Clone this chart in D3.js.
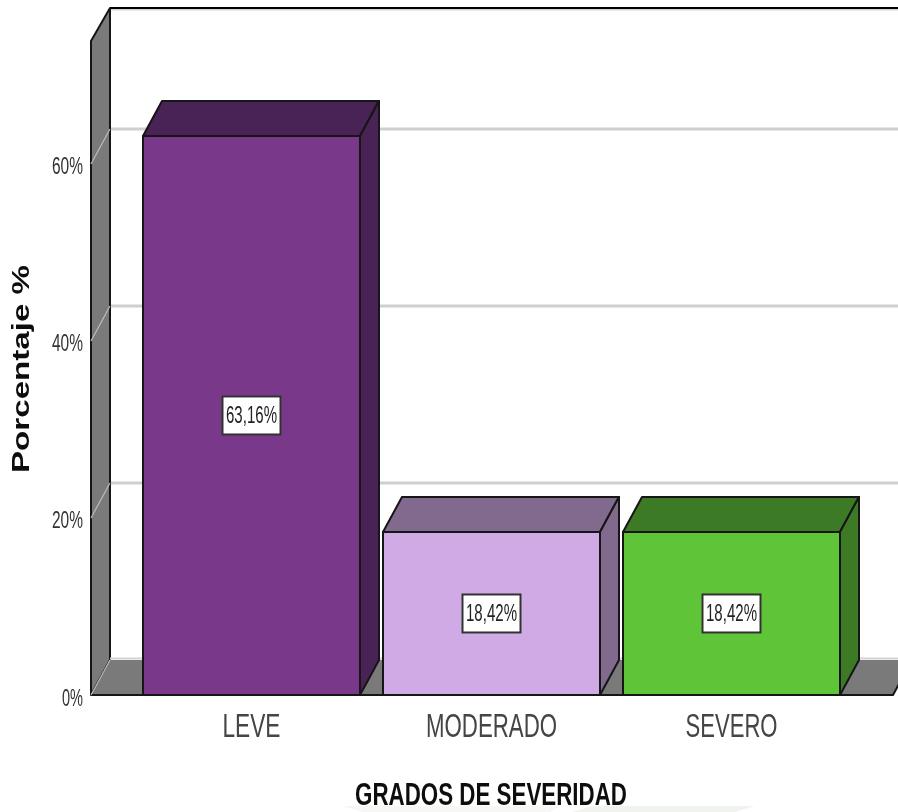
<!DOCTYPE html>
<html><head><meta charset="utf-8">
<script src="https://cdn.jsdelivr.net/npm/d3@7/dist/d3.min.js"></script>
<style>html,body{margin:0;padding:0;background:#fff}svg{display:block}text{font-family:"Liberation Sans",Arial,sans-serif}</style>
</head><body><svg id="c" width="898" height="812"></svg>
<script>
const categories = ["LEVE","MODERADO","SEVERO"];
const values = [63.16,18.42,18.42];
const valueLabels = ["63,16%","18,42%","18,42%"];
const frontColors = ["#7a378b","#cfaae5","#5fc439"];
const topColors = ["#4a2257","#816a8e","#3e7a26"];
const yTicks = [0,20,40,60];
const xTitle = "GRADOS DE SEVERIDAD";
const yTitle = "Porcentaje %";

const svg = d3.select("#c");
const defs = svg.append("defs");
defs.append("filter").attr("id","soft").attr("x","-5%").attr("y","-5%").attr("width","110%").attr("height","110%")
  .append("feGaussianBlur").attr("stdDeviation",0.5);
const root = svg.append("g").attr("filter","url(#soft)");
root.append("rect").attr("width",898).attr("height",812).attr("fill","#fff");

const dx = 19, dy = -35;
const y = d3.scaleLinear().domain([0,74]).range([695,40]);
const x = d3.scaleBand().domain(categories).range([143,840]).paddingInner(23/240).paddingOuter(0);
const left = 91, right = 893;
const poly = pts => pts.map(p=>p.join(",")).join(" ");
const ink = "#141414", wall = "#7a7a7a";

// faint watermark at the page foot
root.append("polygon").attr("points",poly([[342,806],[560,806],[550,812],[362,812]])).attr("fill","#f7f7f6");
root.append("polygon").attr("points",poly([[592,806],[755,806],[735,812],[572,812]])).attr("fill","#f1f4ee");

// back wall gridlines
root.selectAll("line.grid").data(yTicks.filter(t=>t>0)).join("line")
  .attr("x1",left+dx).attr("x2",898).attr("y1",t=>y(t)+dy).attr("y2",t=>y(t)+dy)
  .attr("stroke","#cfcfcf").attr("stroke-width",3);
// top of back wall
root.append("line").attr("x1",left+dx).attr("x2",898).attr("y1",y(74)+dy+4.5).attr("y2",y(74)+dy+4.5).attr("stroke","#d4d4d4").attr("stroke-width",2);
root.append("line").attr("x1",left+dx).attr("x2",898).attr("y1",y(74)+dy+3).attr("y2",y(74)+dy+3).attr("stroke","#000").attr("stroke-width",2);
// side wall
root.append("polygon").attr("points",poly([[left,y(74)+1],[left+dx,y(74)+dy+3],[left+dx,y(0)+dy],[left,y(0)]]))
  .attr("fill",wall).attr("stroke",ink).attr("stroke-width",2).attr("stroke-linejoin","round");
// floor
root.append("line").attr("x1",left+dx).attr("x2",898).attr("y1",y(0)+dy-1.5).attr("y2",y(0)+dy-1.5).attr("stroke","#d4d4d4").attr("stroke-width",2);
root.append("polygon").attr("points",poly([[left,y(0)],[left+dx,y(0)+dy],[right+dx,y(0)+dy],[right,y(0)]]))
  .attr("fill",wall);
root.append("polyline").attr("points",poly([[left,y(0)],[right,y(0)],[right+dx,y(0)+dy]]))
  .attr("fill","none").attr("stroke",ink).attr("stroke-width",2);
// slanted tick lines on wall
root.selectAll("line.tick3d").data(yTicks).join("line")
  .attr("x1",left).attr("x2",left+dx).attr("y1",t=>y(t)).attr("y2",t=>y(t)+dy)
  .attr("stroke","#bdbdbd").attr("stroke-width",1.2);

// bars
const bars = root.selectAll("g.bar").data(categories).join("g").attr("class","bar");
const style = s => s.attr("stroke",ink).attr("stroke-width",2).attr("stroke-linejoin","round");
bars.append("polygon").attr("points",(c,i)=>{const a=x(c),b=a+x.bandwidth(),t=y(values[i]);
  return poly([[a,t],[a+dx,t+dy],[b+dx,t+dy],[b,t]]);}).attr("fill",(c,i)=>topColors[i]).call(style);
bars.append("polygon").attr("points",(c,i)=>{const b=x(c)+x.bandwidth(),t=y(values[i]);
  return poly([[b,t],[b+dx,t+dy],[b+dx,y(0)+dy],[b,y(0)]]);}).attr("fill",(c,i)=>topColors[i]).call(style);
bars.append("rect").attr("x",c=>x(c)).attr("y",(c,i)=>y(values[i])).attr("width",x.bandwidth())
  .attr("height",(c,i)=>y(0)-y(values[i])).attr("fill",(c,i)=>frontColors[i]).call(style);

// value labels
const lab = root.selectAll("g.lab").data(categories).join("g").attr("class","lab")
  .attr("transform",(c,i)=>`translate(${x(c)+x.bandwidth()/2},${y(values[i]/2)})`);
lab.append("rect").attr("x",-29).attr("y",-19).attr("width",58).attr("height",38).attr("fill","#fff").attr("stroke","#333").attr("stroke-width",2);
lab.append("text").attr("text-anchor","middle").attr("y",8).attr("font-size",23).attr("fill","#222")
  .attr("textLength",51).attr("lengthAdjust","spacingAndGlyphs").text((c,i)=>valueLabels[i]);

// y axis labels
const yAxis = d3.axisLeft(y).tickValues(yTicks).tickSize(0).tickPadding(8).tickFormat(t=>t+"%");
const gy = root.append("g").attr("transform",`translate(${left},0)`).call(yAxis);
gy.select(".domain").remove();
gy.selectAll("text").attr("font-size",23).attr("fill","#333").attr("dy",null).attr("y",10)
  .style("font-family",'"Liberation Sans"')
  .attr("textLength",t=>t===0?21:31).attr("lengthAdjust","spacingAndGlyphs");

// x axis labels
const xAxis = d3.axisBottom(x).tickSize(0).tickPadding(0);
const gx = root.append("g").attr("transform",`translate(0,${y(0)})`).call(xAxis);
gx.select(".domain").remove();
gx.selectAll("text").attr("font-size",33).attr("fill","#444").attr("y",42).attr("dy",null)
  .style("font-family",'"Liberation Sans"')
  .attr("textLength",(c,i)=>[58,131,92][i]).attr("lengthAdjust","spacingAndGlyphs");

// titles
root.append("text").attr("x",491).attr("y",805).attr("text-anchor","middle").attr("font-size",31).attr("font-weight","bold").attr("fill","#111")
  .attr("textLength",272).attr("lengthAdjust","spacingAndGlyphs").text(xTitle);
root.append("text").attr("transform","translate(29,369) rotate(-90)").attr("text-anchor","middle").attr("font-size",23).attr("font-weight","bold").attr("fill","#111")
  .attr("textLength",208).attr("lengthAdjust","spacingAndGlyphs").text(yTitle);
</script></body></html>
